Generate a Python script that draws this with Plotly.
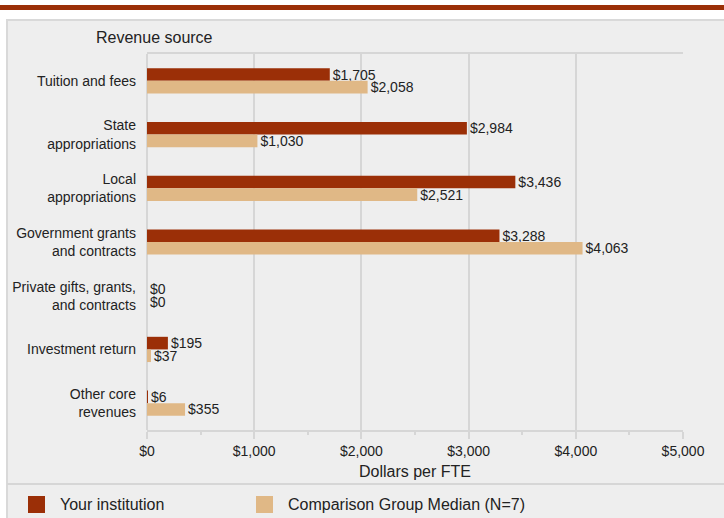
import plotly.graph_objects as go

# Revenue per FTE
categories = ['Tuition and fees', 'State<br>appropriations', 'Local<br>appropriations',
              'Government grants<br>and contracts', 'Private gifts, grants,<br>and contracts',
              'Investment return', 'Other core<br>revenues']
your_institution = [1705, 2984, 3436, 3288, 0, 195, 6]
comparison_median = [2058, 1030, 2521, 4063, 0, 37, 355]
series_names = ['Your institution', 'Comparison Group Median (N=7)']
x_ticks = [0, 1000, 2000, 3000, 4000, 5000]

DARK = '#9b2f07'
LIGHT = '#e0b886'
FONT = 'Liberation Sans, Arial, sans-serif'
TXT = '#222222'

W, H = 724, 518
ML, MR, MT, MB = 147, 41, 54, 88
PW, PH = W - ML - MR, H - MT - MB


def px(x):
    return (x - ML) / PW


def py(y):
    return (H - MB - y) / PH


fig = go.Figure()
for name, vals, col in [(series_names[0], your_institution, DARK),
                        (series_names[1], comparison_median, LIGHT)]:
    fig.add_trace(go.Bar(
        y=categories, x=vals, orientation='h', name=name,
        marker=dict(color=col, line=dict(width=0)),
        texttemplate='$%{x:,}', textposition='outside', cliponaxis=False,
        constraintext='none', showlegend=False,
        textfont=dict(size=14, color=TXT),
    ))

shapes = [
    # grey panel
    dict(type='rect', xref='paper', yref='paper', x0=px(7), x1=px(760), y0=py(20), y1=py(560),
         fillcolor='#eeeeee', line=dict(color='#d9d9d9', width=2), layer='below'),
    # top red rule
    dict(type='rect', xref='paper', yref='paper', x0=px(0), x1=px(W + 5), y0=py(10), y1=py(5),
         fillcolor=DARK, line=dict(width=0), layer='below'),
    # separator above legend
    dict(type='line', xref='paper', yref='paper', x0=px(7), x1=px(W + 5), y0=py(484), y1=py(484),
         line=dict(color='#d6d6d6', width=2), layer='below'),
]
annotations = [dict(text='Revenue source', xref='paper', yref='paper', x=px(94), y=py(38),
                    xanchor='left', yanchor='middle', showarrow=False,
                    font=dict(size=16, color=TXT))]

# legend: swatch + label
for name, col, x0 in [(series_names[0], DARK, 28), (series_names[1], LIGHT, 256)]:
    shapes.append(dict(type='rect', xref='paper', yref='paper',
                       x0=px(x0), x1=px(x0 + 17), y0=py(513), y1=py(496),
                       fillcolor=col, line=dict(width=0)))
    annotations.append(dict(text=name, xref='paper', yref='paper', x=px(x0 + 30), y=py(504),
                            xanchor='left', yanchor='middle', showarrow=False,
                            font=dict(size=16, color=TXT)))

fig.update_layout(
    width=W, height=H,
    margin=dict(l=ML, r=MR, t=MT, b=MB),
    paper_bgcolor='white', plot_bgcolor='#eeeeee',
    font=dict(family=FONT, size=14, color=TXT),
    barmode='group', bargap=0.53, bargroupgap=0,
    shapes=shapes,
    annotations=annotations,
    xaxis=dict(range=[0, 5000], tickmode='array', tickvals=x_ticks,
               ticktext=['${:,}'.format(v) for v in x_ticks],
               showgrid=True, gridcolor='#d6d6d6', gridwidth=2,
               zeroline=True, zerolinecolor='#d6d6d6', zerolinewidth=2,
               showline=True, linecolor='#d6d6d6', linewidth=2, mirror=True,
               ticks='outside', ticklen=7, tickcolor='#d6d6d6', tickwidth=2,
               minor=dict(dtick=500, ticks='outside', ticklen=3, tickcolor='#d6d6d6', tickwidth=2),
               tickfont=dict(size=14, color=TXT),
               title=dict(text='Dollars per FTE', font=dict(size=16, color=TXT), standoff=8),
               automargin=False, fixedrange=True),
    yaxis=dict(categoryorder='array', categoryarray=categories, autorange='reversed',
               showgrid=False, showline=False, zeroline=False, ticks='',
               ticklabelstandoff=10, tickfont=dict(size=14, color=TXT),
               automargin=False, fixedrange=True),
)

fig.write_html("out.html", config={'displayModeBar': False},
               post_script="document.body.style.margin='0';document.body.style.overflow='hidden';")
